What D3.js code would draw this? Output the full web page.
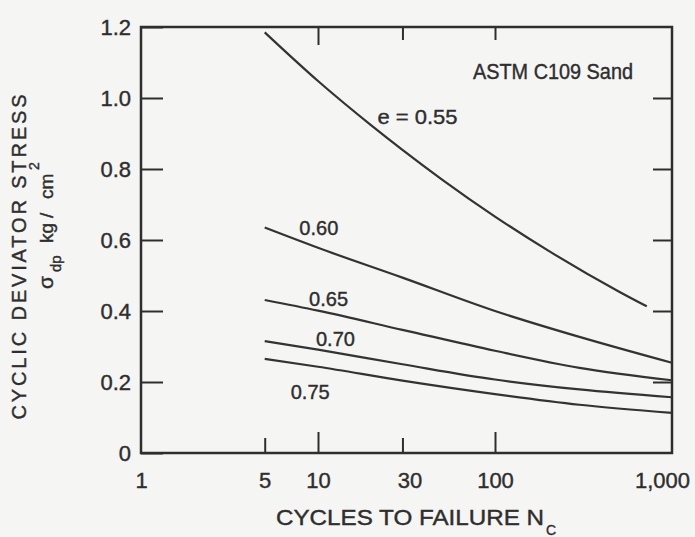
<!DOCTYPE html>
<html>
<head>
<meta charset="utf-8">
<script src="https://cdn.jsdelivr.net/npm/d3@7"></script>
<style>
  body { margin: 0; background: #f5f5f3; }
  svg { display: block; }
  text { font-family: "Liberation Sans", Arial, sans-serif; fill: #2e2e2e; stroke: #2e2e2e; stroke-width: 0.4px; }
</style>
</head>
<body>
<svg id="chart" width="695" height="537"></svg>
<script>
// cycles to failure (x) and cyclic deviator stress kg/cm2 (y), one array per void ratio
var cycles55 = [5, 10, 20, 30, 50, 100, 200, 500, 720];
var stress55 = [1.185, 1.048, 0.923, 0.854, 0.771, 0.666, 0.570, 0.455, 0.413];
var cyclesOther = [5, 10, 30, 100, 300, 1000];
var stress60 = [0.635, 0.578, 0.494, 0.400, 0.327, 0.254];
var stress65 = [0.431, 0.401, 0.347, 0.288, 0.240, 0.205];
var stress70 = [0.315, 0.291, 0.250, 0.207, 0.179, 0.157];
var stress75 = [0.265, 0.243, 0.204, 0.166, 0.136, 0.113];
var voidRatios = ["e = 0.55", "0.60", "0.65", "0.70", "0.75"];

var xTicks = [1, 5, 10, 30, 100, 1000];
var xTickLabels = ["1", "5", "10", "30", "100", "1,000"];
var yTicks = [0, 0.2, 0.4, 0.6, 0.8, 1.0, 1.2];

var svg = d3.select("#chart");
var plotLeft = 141, plotRight = 672, plotTop = 27, plotBottom = 453;

var x = d3.scaleLog().domain([1, 1000]).range([plotLeft, plotRight]);
var y = d3.scaleLinear().domain([0, 1.2]).range([plotBottom, plotTop]);

var ink = "#2e2e2e";

function styleAxis(g) {
    g.select(".domain").remove();
    g.selectAll(".tick line").attr("stroke", ink).attr("stroke-width", 2);
    g.selectAll(".tick text").attr("font-size", 22).attr("fill", ink)
        .attr("font-family", "Liberation Sans, Arial, sans-serif");
}

// left axis: labels and inner ticks
svg.append("g")
    .attr("transform", "translate(" + plotLeft + ",0)")
    .call(d3.axisLeft(y).tickValues(yTicks).tickSizeInner(-22).tickSizeOuter(0).tickPadding(10)
        .tickFormat(function(d) { return d === 0 ? "0" : d3.format(".1f")(d); }))
    .call(styleAxis);

// right axis: inner ticks only
svg.append("g")
    .attr("transform", "translate(" + plotRight + ",0)")
    .call(d3.axisRight(y).tickValues(yTicks.slice(1, 6)).tickSizeInner(-19).tickSizeOuter(0).tickFormat(""))
    .call(styleAxis);

// bottom axis labels
svg.append("g")
    .attr("transform", "translate(0," + plotBottom + ")")
    .call(d3.axisBottom(x).tickValues(xTicks).tickSize(0).tickPadding(19)
        .tickFormat(function(d, i) { return xTickLabels[i]; }))
    .call(styleAxis)
    .selectAll(".tick text")
    .attr("dx", function(d) { return d === 1000 ? -10 : d === 30 ? 7 : 0; });

// bottom inner ticks
svg.append("g")
    .attr("transform", "translate(0," + plotBottom + ")")
    .call(d3.axisBottom(x).tickValues([10, 100]).tickSizeInner(-21).tickSizeOuter(0).tickFormat(""))
    .call(styleAxis);
svg.append("g")
    .attr("transform", "translate(0," + plotBottom + ")")
    .call(d3.axisBottom(x).tickValues([5, 30]).tickSizeInner(-15).tickSizeOuter(0).tickFormat(""))
    .call(styleAxis);

// top inner ticks
svg.append("g")
    .attr("transform", "translate(0," + plotTop + ")")
    .call(d3.axisTop(x).tickValues([10]).tickSizeInner(-18).tickSizeOuter(0).tickFormat(""))
    .call(styleAxis);
svg.append("g")
    .attr("transform", "translate(0," + plotTop + ")")
    .call(d3.axisTop(x).tickValues([30, 100]).tickSizeInner(-13).tickSizeOuter(0).tickFormat(""))
    .call(styleAxis);

// frame
svg.append("rect")
    .attr("x", plotLeft).attr("y", plotTop)
    .attr("width", plotRight - plotLeft).attr("height", plotBottom - plotTop)
    .attr("fill", "none").attr("stroke", ink).attr("stroke-width", 2.5);

// curves
var series = [
    { n: cycles55, s: stress55 },
    { n: cyclesOther, s: stress60 },
    { n: cyclesOther, s: stress65 },
    { n: cyclesOther, s: stress70 },
    { n: cyclesOther, s: stress75 }
];

var line = d3.line()
    .x(function(d) { return x(d[0]); })
    .y(function(d) { return y(d[1]); })
    .curve(d3.curveMonotoneX);

svg.selectAll(".curve")
    .data(series)
    .enter().append("path")
    .attr("class", "curve")
    .attr("d", function(d) { return line(d3.zip(d.n, d.s)); })
    .attr("fill", "none")
    .attr("stroke", "#333")
    .attr("stroke-width", 2.2);

// curve labels, anchored in data units
var labelAt = [[21.7, 0.926, 80], [7.84, 0.614, 39], [8.9, 0.414, 39], [9.74, 0.301, 39], [7.01, 0.151, 39]];
svg.selectAll(".elabel")
    .data(voidRatios)
    .enter().append("text")
    .attr("class", "elabel")
    .attr("x", function(d, i) { return x(labelAt[i][0]); })
    .attr("y", function(d, i) { return y(labelAt[i][1]); })
    .attr("font-size", 21)
    .attr("textLength", function(d, i) { return labelAt[i][2]; })
    .attr("lengthAdjust", "spacingAndGlyphs")
    .text(function(d) { return d; });

svg.append("text")
    .attr("x", x(75.1)).attr("y", y(1.053))
    .attr("font-size", 22)
    .attr("textLength", 160).attr("lengthAdjust", "spacingAndGlyphs")
    .text("ASTM C109 Sand");

// x axis title
svg.append("text")
    .attr("x", 276).attr("y", 525)
    .attr("font-size", 22)
    .attr("textLength", 268).attr("lengthAdjust", "spacingAndGlyphs")
    .text("CYCLES TO FAILURE N");
svg.append("text")
    .attr("x", 546).attr("y", 535)
    .attr("font-size", 14)
    .text("C");

// y axis title, two lines
svg.append("text")
    .attr("transform", "translate(26,257) rotate(-90)")
    .attr("text-anchor", "middle")
    .attr("font-size", 20)
    .attr("textLength", 325).attr("lengthAdjust", "spacing")
    .text("CYCLIC DEVIATOR STRESS");

var unit = svg.append("text")
    .attr("transform", "translate(53,289) rotate(-90)");
unit.append("tspan").attr("x", 0).attr("y", 0).attr("font-size", 21).text("σ");
unit.append("tspan").attr("x", 17).attr("y", 8).attr("font-size", 15).text("dp");
unit.append("tspan").attr("x", 46).attr("y", 0).attr("font-size", 19).text("kg");
unit.append("tspan").attr("x", 71).attr("y", 0).attr("font-size", 19).text("/");
unit.append("tspan").attr("x", 90).attr("y", 0).attr("font-size", 19).text("cm");
unit.append("tspan").attr("x", 119).attr("y", -14).attr("font-size", 14).text("2");
</script>
</body>
</html>
